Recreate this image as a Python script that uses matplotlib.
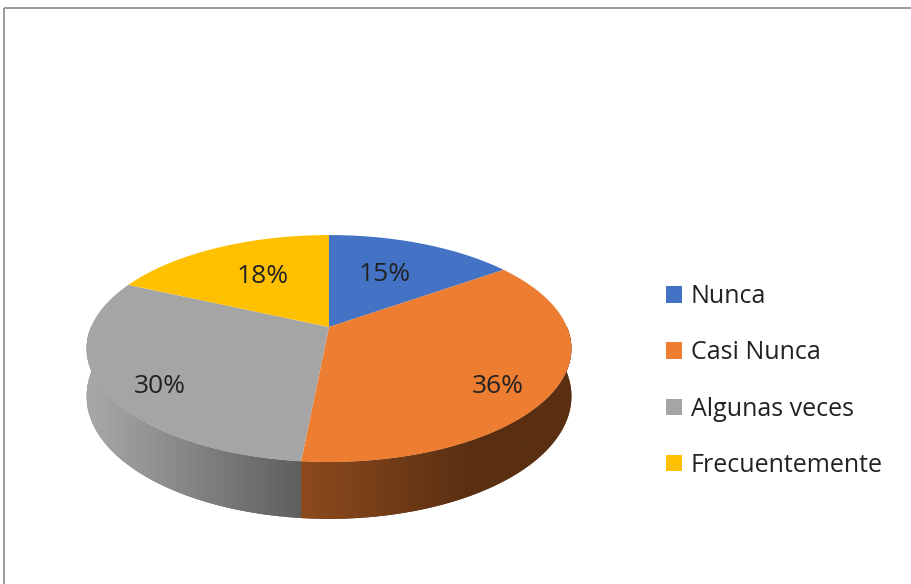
import numpy as np
import matplotlib.pyplot as plt
from matplotlib.patches import Polygon, Rectangle, Patch
from matplotlib.colors import to_rgb

# datos del grafico
categorias = ['Nunca', 'Casi Nunca', 'Algunas veces', 'Frecuentemente']
porcentajes = [15, 36, 30, 18]
colores = ['#4472C4', '#ED7D31', '#A5A5A5', '#FFC000']
# colores del costado (izquierda, derecha) para el degradado
lados = {1: ('#8d4a1d', '#5a2f12'), 2: ('#a9a9a9', '#5e5e5e')}

plt.rcParams['font.family'] = ['Open Sans', 'DejaVu Sans']

# geometria del pastel 3D (pixeles)
cx, cy = 329, 327
a, b = 238, 109.4
k = 0.19          # perspectiva
grosor = 46

def proy(t, r=1.0, z=0.0):
    X = r * np.cos(t)
    Y = r * np.sin(t)
    f = 1.0 / (1 + k * Y)
    return cx + a * X * f, cy - b * Y * f + z * f

fig = plt.figure(figsize=(9.12, 5.84), dpi=100)
ax = fig.add_axes([0, 0, 1, 1])
ax.set_xlim(0, 912)
ax.set_ylim(584, 0)
ax.axis('off')

frac = np.array(porcentajes, dtype=float) / sum(porcentajes)
bordes = np.pi / 2 - 2 * np.pi * np.concatenate([[0], np.cumsum(frac)])

# costados (solo la mitad frontal: angulos entre -pi y 0)
for i in range(len(categorias)):
    lo, hi = bordes[i + 1], bordes[i]
    hi = min(hi, 0.0)
    lo = max(lo, -np.pi)
    if lo >= hi:
        continue
    tt = np.linspace(lo, hi, 120)
    xs, ys = proy(tt)
    xb, yb = proy(tt[::-1], z=grosor)
    pts = np.column_stack([np.concatenate([xs, xb]), np.concatenate([ys, yb])])
    c1, c2 = lados.get(i, (colores[i], colores[i]))
    poli = Polygon(pts, closed=True, facecolor=c2, edgecolor='none')
    ax.add_patch(poli)
    x0, x1 = pts[:, 0].min(), pts[:, 0].max()
    y0, y1 = pts[:, 1].min(), pts[:, 1].max()
    ca, cb = np.array(to_rgb(c1)), np.array(to_rgb(c2))
    s = np.linspace(0, 1, 256)
    if i == 1:
        s = np.clip(s * 1.6, 0, 1)
    grad = ca[None, :] * (1 - s[:, None]) + cb[None, :] * s[:, None]
    img = ax.imshow(grad[None, :, :], extent=[x0, x1, y1, y0], aspect='auto',
                    interpolation='bilinear', zorder=1)
    img.set_clip_path(poli)

# cara superior
for i in range(len(categorias)):
    tt = np.linspace(bordes[i], bordes[i + 1], 150)
    xs, ys = proy(tt)
    pts = np.column_stack([np.concatenate([[cx], xs]), np.concatenate([[cy], ys])])
    ax.add_patch(Polygon(pts, closed=True, facecolor=colores[i],
                         edgecolor='none', zorder=2))

# etiquetas de porcentaje
for i in range(len(categorias)):
    tm = (bordes[i] + bordes[i + 1]) / 2
    if np.sin(tm) < 0:      # rebanada con costado visible
        x, y = proy(tm, r=0.76)
        y += 15
    else:
        x, y = proy(tm, r=0.56)
        y -= 3
    ax.text(x, y, f'{porcentajes[i]}%', ha='center', va='center',
            fontsize=19, color='#222222', zorder=3)

# borde del area del grafico
ax.add_patch(Rectangle((4, 8), 920, 590, facecolor='none', edgecolor='#8a8a8a',
                       lw=1.2, clip_on=False, zorder=5))

manejadores = [Patch(facecolor=c, edgecolor='none') for c in colores]
fig.legend(manejadores, categorias, loc='center left',
           bbox_to_anchor=(666 / 912, 1 - 381 / 584), frameon=False,
           fontsize=18, handlelength=0.64, handleheight=0.64,
           handletextpad=0.36, labelspacing=1.25, borderpad=0, borderaxespad=0,
           labelcolor='#222222')

fig.savefig('out.png', dpi=100)
